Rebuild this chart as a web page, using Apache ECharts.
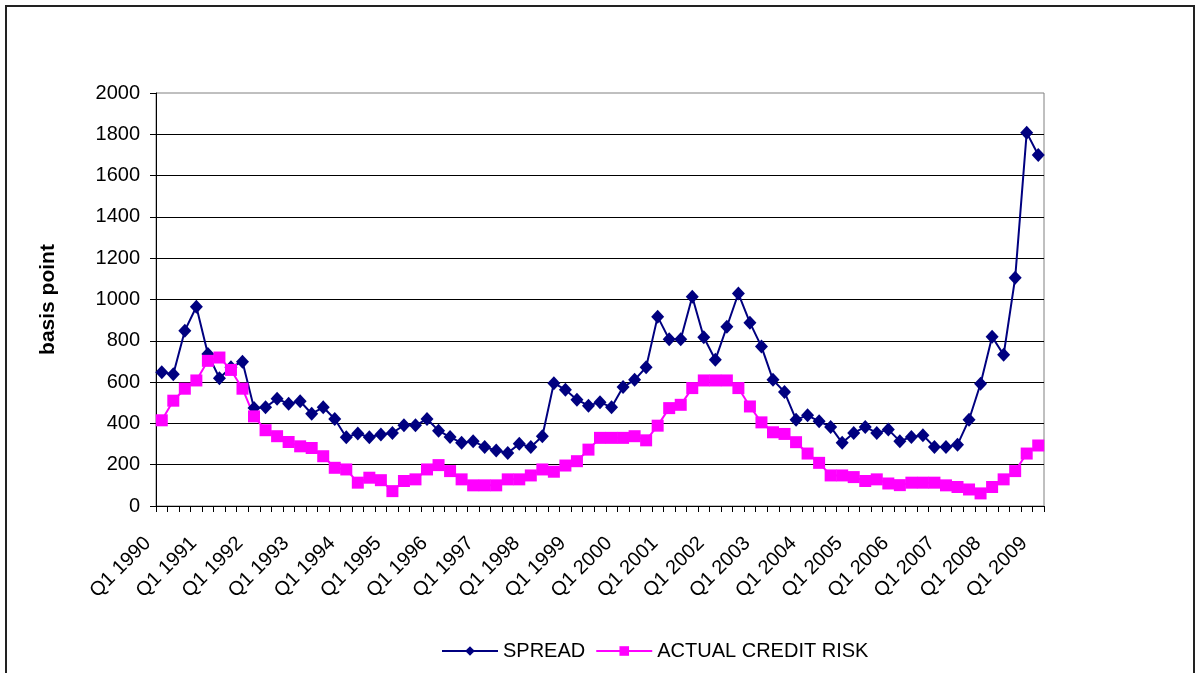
<!DOCTYPE html>
<html>
<head>
<meta charset="utf-8">
<script src="https://cdn.jsdelivr.net/npm/echarts@6/dist/echarts.min.js"></script>
<style>
  html, body { margin: 0; padding: 0; background: #fff; }
  #chart { width: 1195px; height: 673px; }
</style>
</head>
<body>
<div id="chart"></div>
<script>
// Quarterly observations, Q1 1990 through Q1 2009 (basis points)
const firstYear = 1990;
const quarterCount = 77;

const spread = [
  648, 638, 849, 965, 736, 619, 672, 699, 474, 478,
  519, 495, 507, 447, 478, 421, 333, 351, 333, 346,
  354, 391, 391, 421, 365, 334, 306, 314, 286, 269,
  257, 301, 286, 338, 595, 563, 515, 486, 503, 478,
  576, 611, 672, 917, 807, 807, 1013, 817, 708, 868,
  1029, 888, 772, 611, 552, 418, 439, 410, 383, 306,
  354, 383, 354, 370, 314, 334, 343, 286, 286, 297,
  418, 592, 820, 732, 1105, 1808, 1700
];

const actualCreditRisk = [
  415, 510, 568, 608, 703, 719, 659, 568, 434, 367,
  338, 310, 289, 281, 241, 185, 177, 113, 137, 125,
  72, 121, 129, 177, 198, 169, 129, 100, 100, 100,
  129, 129, 148, 177, 166, 196, 217, 273, 330, 330,
  330, 338, 318, 389, 474, 490, 571, 608, 608, 608,
  571, 482, 405, 357, 349, 309, 254, 209, 148, 148,
  140, 121, 129, 109, 101, 113, 113, 113, 100, 92,
  80, 61, 92, 129, 169, 254, 293
];

// Category labels "Qn YYYY"
const quarters = [];
for (let i = 0; i < quarterCount; i++) {
  quarters.push('Q' + (i % 4 + 1) + ' ' + (firstYear + Math.floor(i / 4)));
}

const FONT = "'Liberation Sans', Arial, sans-serif";

const chart = echarts.init(document.getElementById('chart'), null, { renderer: 'canvas' });

chart.setOption({
  backgroundColor: '#ffffff',
  animation: false,
  textStyle: { fontFamily: FONT, color: '#000' },
  grid: {
    left: 156, right: 151, top: 93, bottom: 167,
    show: true, borderColor: '#808080', borderWidth: 1,
    backgroundColor: 'transparent'
  },
  graphic: [{
    type: 'rect',
    shape: { x: 6, y: 6, width: 1188, height: 720 },
    style: { fill: 'none', stroke: '#222', lineWidth: 2 },
    silent: true, z: 100
  }],
  legend: {
    left: 441, top: 641, padding: 0,
    itemWidth: 56, itemHeight: 12, itemGap: 10,
    textStyle: { fontFamily: FONT, fontSize: 20, color: '#000' },
    data: ['SPREAD', 'ACTUAL CREDIT RISK']
  },
  xAxis: {
    type: 'category',
    data: quarters,
    boundaryGap: true,
    axisLine: { lineStyle: { color: '#000', width: 1 } },
    axisTick: { show: true, interval: 0, length: 6, lineStyle: { color: '#000' } },
    axisLabel: {
      interval: 3, rotate: 45, margin: 20,
      padding: [0, 20, 0, 0],
      fontFamily: FONT, fontSize: 20, color: '#000'
    },
    splitLine: { show: false }
  },
  yAxis: {
    type: 'value',
    min: 0, max: 2000, interval: 200,
    name: 'basis point',
    nameLocation: 'middle',
    nameGap: 97,
    nameTextStyle: { fontFamily: FONT, fontSize: 21, fontWeight: 'bold', color: '#000' },
    axisLine: { show: true, lineStyle: { color: '#000', width: 1 } },
    axisTick: { show: true, length: 6, lineStyle: { color: '#000' } },
    axisLabel: {
      margin: 16, fontFamily: FONT, fontSize: 20, color: '#000',
      formatter: function (v) { return String(v); }
    },
    splitLine: { show: true, showMaxLine: false, lineStyle: { color: '#000', width: 1 } }
  },
  series: [
    {
      name: 'SPREAD',
      type: 'line',
      data: spread,
      color: '#000080',
      lineStyle: { color: '#000080', width: 2 },
      itemStyle: { color: '#000080' },
      symbol: 'diamond',
      symbolSize: [13, 14],
      showAllSymbol: true
    },
    {
      name: 'ACTUAL CREDIT RISK',
      type: 'line',
      data: actualCreditRisk,
      color: '#ff00ff',
      lineStyle: { color: '#ff00ff', width: 2 },
      itemStyle: { color: '#ff00ff' },
      symbol: 'rect',
      symbolSize: 12,
      showAllSymbol: true
    }
  ]
});
</script>
</body>
</html>
